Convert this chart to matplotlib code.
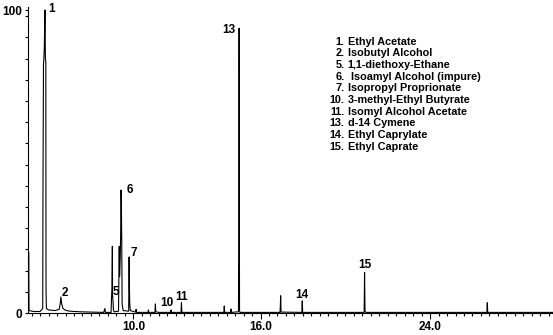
import matplotlib
matplotlib.use("Agg")
import matplotlib.pyplot as plt
from matplotlib.ticker import MultipleLocator, FixedLocator

# chromatogram trace (retention time in min, % abundance)
rt = [5.04, 5.06, 5.08, 5.3, 5.6, 5.725, 5.735, 5.76, 5.78, 5.80, 5.83, 5.85, 5.87, 5.88, 5.90,
      6.0, 6.3, 6.5, 6.55, 6.58, 6.62, 6.68, 6.8, 7.0, 7.5, 8.0, 8.6, 8.66, 8.68,
      8.95, 8.97, 8.99, 9.01, 9.02, 9.04, 9.06, 9.10,
      9.30, 9.335, 9.35, 9.38, 9.40, 9.42, 9.435, 9.455, 9.47, 9.52,
      9.78, 9.80, 9.815, 9.83, 9.86, 10.1, 10.13, 10.15, 10.69, 10.71, 10.73,
      11.02, 11.04, 11.06, 11.2, 11.76, 11.78, 11.80, 12.25, 12.27, 12.29,
      14.27, 14.29, 14.31, 14.59, 14.61, 14.63, 14.96, 14.975, 14.99, 15.01, 15.03,
      16.92, 16.94, 16.95, 16.97, 17.95, 17.97, 17.99, 20.89, 20.91, 20.93, 20.97,
      26.68, 26.70, 26.72, 29.8]
signal = [0.3, 20, 0.8, 0.5, 0.5, 1.5, 37, 82, 84, 88, 100, 84, 83, 8, 1.5,
          1.0, 0.8, 1.2, 3, 5.3, 3, 1.5, 0.9, 0.6, 0.4, 0.3, 0.2, 1.5, 0.2,
          0.2, 5, 8, 22, 6, 4, 1, 0.4,
          0.6, 22, 12, 18, 25, 40.6, 36, 22, 3, 0.8,
          0.6, 18.5, 8.5, 3, 0.8, 0.3, 1.2, 0.2, 0.2, 1, 0.2,
          0.2, 3, 0.4, 0.2, 0.2, 1, 0.2, 0.2, 3.4, 0.2,
          0.2, 2.3, 0.2, 0.2, 1.3, 0.2, 0.4, 20, 94, 0.8, 0.2,
          0.2, 3, 5.7, 0.3, 0.2, 4, 0.2, 0.2, 13.4, 0.6, 0.2,
          0.2, 3.4, 0.2, 0.2]

# labelled peaks
peak_ids = ["1", "2", "5", "6", "7", "10", "11", "13", "14", "15"]
peak_rt = [5.83, 6.58, 8.99, 9.42, 9.80, 11.78, 12.27, 14.99, 17.97, 20.91]
peak_h = [100, 5.3, 8, 40.6, 18.5, 1, 3.4, 94, 4, 13.4]
label_offsets = [(4.5, 0.5), (3.1, 2.5), (3.2, -2.5), (6.1, 0), (3.4, 2.5),
                 (-3.1, 4.7), (0, 4.1), (-7.6, -1.4), (0, 3.9), (0, 5.6)]

# compound key
key_nums = ["1.", "2.", "5.", "6.", "7.", "10.", "11.", "13.", "14.", "15."]
key_names = ["Ethyl Acetate", "Isobutyl Alcohol", "1,1-diethoxy-Ethane",
             " Isoamyl Alcohol (impure)", "Isopropyl Proprionate",
             "3-methyl-Ethyl Butyrate", "Isomyl Alcohol Acetate", "d-14 Cymene",
             "Ethyl Caprylate", "Ethyl Caprate"]

x_ticks = [10.0, 16.0, 24.0]

plt.rcParams["font.family"] = ["Liberation Sans", "DejaVu Sans"]
plt.rcParams["font.weight"] = "bold"

fig = plt.figure(figsize=(5.53, 3.35), dpi=100)
ax = fig.add_axes([28 / 553, 22 / 335, 525 / 553, 306 / 335])

ax.plot(rt, signal, color="black", lw=0.8)

for pid, t, h, off in zip(peak_ids, peak_rt, peak_h, label_offsets):
    ax.annotate(pid, (t, h), xytext=off, textcoords="offset points",
                ha="center", va="center", fontsize=8.5, fontweight="bold")

y0 = 0.887
step = 0.0381
for i, (num, name) in enumerate(zip(key_nums, key_names)):
    ax.text(0.603, y0 - i * step, num, transform=ax.transAxes, ha="right",
            va="center", fontsize=7.8, fontweight="bold")
    ax.text(0.609, y0 - i * step, name, transform=ax.transAxes, ha="left",
            va="center", fontsize=7.8, fontweight="bold")

ax.set_xlim(5.03, 29.8)
ax.set_ylim(0, 101)

ax.spines["top"].set_visible(False)
ax.spines["right"].set_visible(False)
ax.spines["left"].set_linewidth(0.8)
ax.spines["bottom"].set_linewidth(0.8)

ax.xaxis.set_major_locator(FixedLocator(x_ticks))
ax.xaxis.set_minor_locator(MultipleLocator(0.4))
ax.set_xticklabels([f"{v:.1f}" for v in x_ticks])
ax.yaxis.set_major_locator(FixedLocator([0, 100]))
ax.yaxis.set_minor_locator(MultipleLocator(7))
ax.tick_params(axis="x", which="major", direction="out", length=4, width=0.8,
               labelsize=8.5, pad=2)
ax.tick_params(axis="x", which="minor", direction="out", length=2.5, width=0.8)
ax.tick_params(axis="y", which="both", direction="out", length=2.2, width=0.8,
               labelsize=8.5, pad=2)
for lab in ax.get_xticklabels() + ax.get_yticklabels():
    lab.set_fontweight("bold")

fig.savefig("out.png", dpi=100)
